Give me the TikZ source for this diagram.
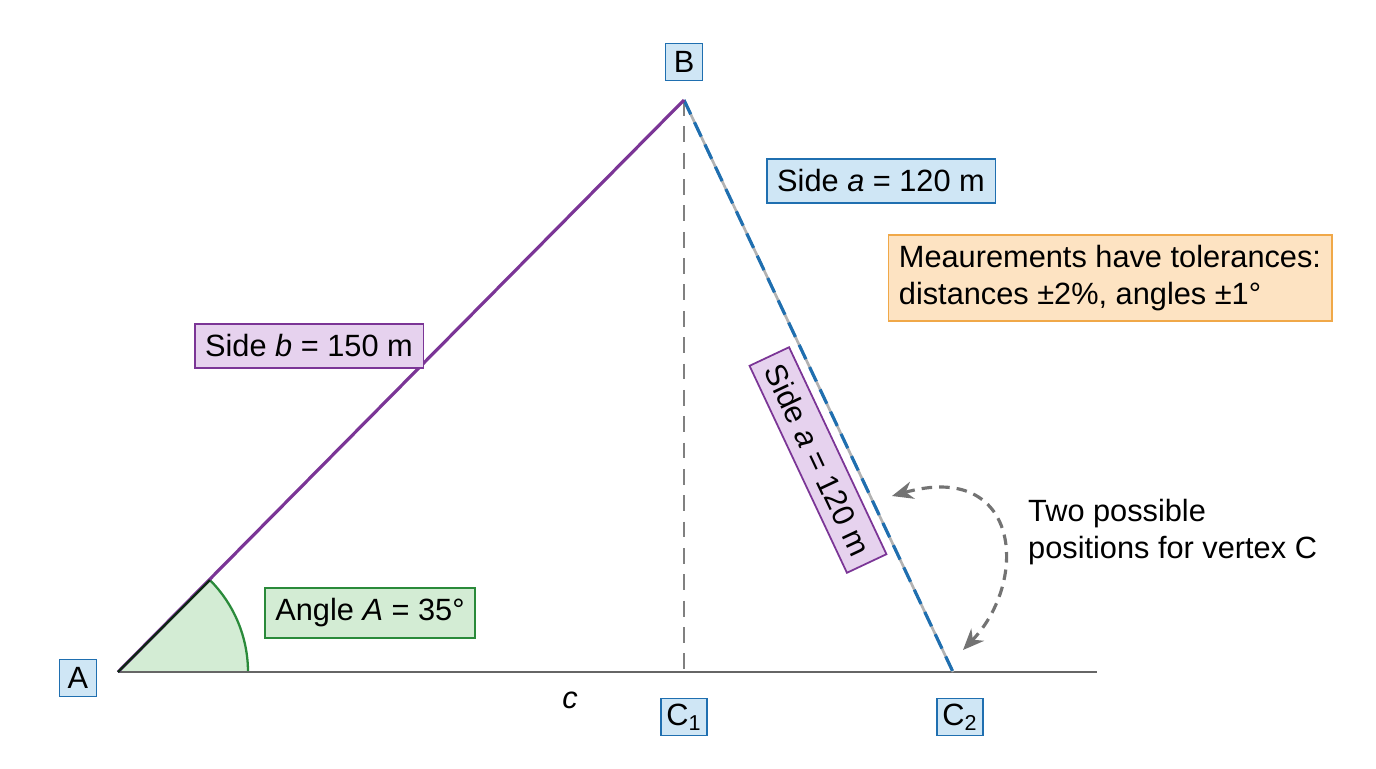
\documentclass[tikz,border=0pt]{standalone}
\usepackage{fontspec}
\setmainfont{Liberation Sans}
\usetikzlibrary{arrows.meta}
\definecolor{bluefill}{HTML}{CFE6F5}
\definecolor{blueline}{HTML}{1F6FB0}
\definecolor{purpfill}{HTML}{E6D2EE}
\definecolor{purpline}{HTML}{7B3596}
\definecolor{greenfill}{HTML}{D3ECD4}
\definecolor{greenline}{HTML}{2A8A3A}
\definecolor{orangefill}{HTML}{FDE3C2}
\definecolor{orangeline}{HTML}{F0A848}
\tikzset{
  lbl/.style={draw,line width=1pt,font=\fontsize{17.5}{21}\selectfont,inner sep=6pt},
  vtx/.style={lbl,fill=bluefill,draw=blueline,inner sep=3pt,minimum size=21pt},
  bluelbl/.style={lbl,fill=bluefill,draw=blueline},
  purplbl/.style={lbl,fill=purpfill,draw=purpline},
}
\begin{document}
\begin{tikzpicture}[x=0.02cm,y=-0.02cm]
\useasboundingbox (0,0) rectangle (1376,768);

% Sommets
\coordinate (A) at (118,672);
\coordinate (B) at (684,100);
\coordinate (C1) at (684,672);
\coordinate (C2) at (953,672);
\coordinate (E) at (1097,672);

% Angle A
\fill[greenfill] (A) -- ++(130,0) arc[start angle=0,end angle=-45,radius=130] -- cycle;
\draw[greenline,line width=1.3pt] (A) ++(130,0) arc[start angle=0,end angle=-45,radius=130];

% Cotes
\draw[gray!80!black,line width=1.3pt] (A) -- (E);
\draw[gray,line width=1.3pt,dash pattern=on 9pt off 6pt] (B) -- (C1);
\draw[gray!60,line width=1.5pt] (B) -- (C2);
\draw[blueline,line width=1.8pt,dash pattern=on 9pt off 5pt] (B) -- (C2);
\draw[purpline,line width=1.8pt] (A) -- (B);
\draw[black!70!greenline,line width=1.3pt] (A) -- ++(-45:130);

% Etiquettes
\node[vtx] (nB) at (684,62) {B};
\node[vtx] (nA) at (78,678) {A};
\node[vtx] (nC1) at (684,717) {C\textsubscript{1}};
\node[vtx] (nC2) at (960,717) {C\textsubscript{2}};
\node[font=\fontsize{17.5}{21}\selectfont\itshape] (c) at (570,700) {c};

\node[bluelbl] (sa) at (881,181) {Side \textit{a} = 120 m};
\node[lbl,fill=orangefill,draw=orangeline,align=left] (tol) at (1110,278)
  {Meaurements have tolerances:\\distances ±2\%, angles ±1°};
\node[purplbl] (sb) at (309,346) {Side \textit{b} = 150 m};
\node[purplbl,rotate=-64.8] (sa2) at (818,460) {Side \textit{a} = 120 m};
\node[lbl,fill=greenfill,draw=greenline] (ang) at (370,613) {Angle \textit{A} = 35°};
\node[font=\fontsize{17.5}{21}\selectfont,align=left,anchor=west] (two) at (1022,532)
  {Two possible\\positions for vertex C};

% Fleche courbe
\coordinate (p1) at (892,496);
\coordinate (p2) at (963,650);
\draw[gray!90!black,line width=1.8pt,dash pattern=on 6pt off 4pt,{Stealth[length=12pt,width=10pt]}-{Stealth[length=12pt,width=10pt]}]
  (p1) .. controls (1020,460) and (1030,580) .. (p2);
\end{tikzpicture}
\end{document}
